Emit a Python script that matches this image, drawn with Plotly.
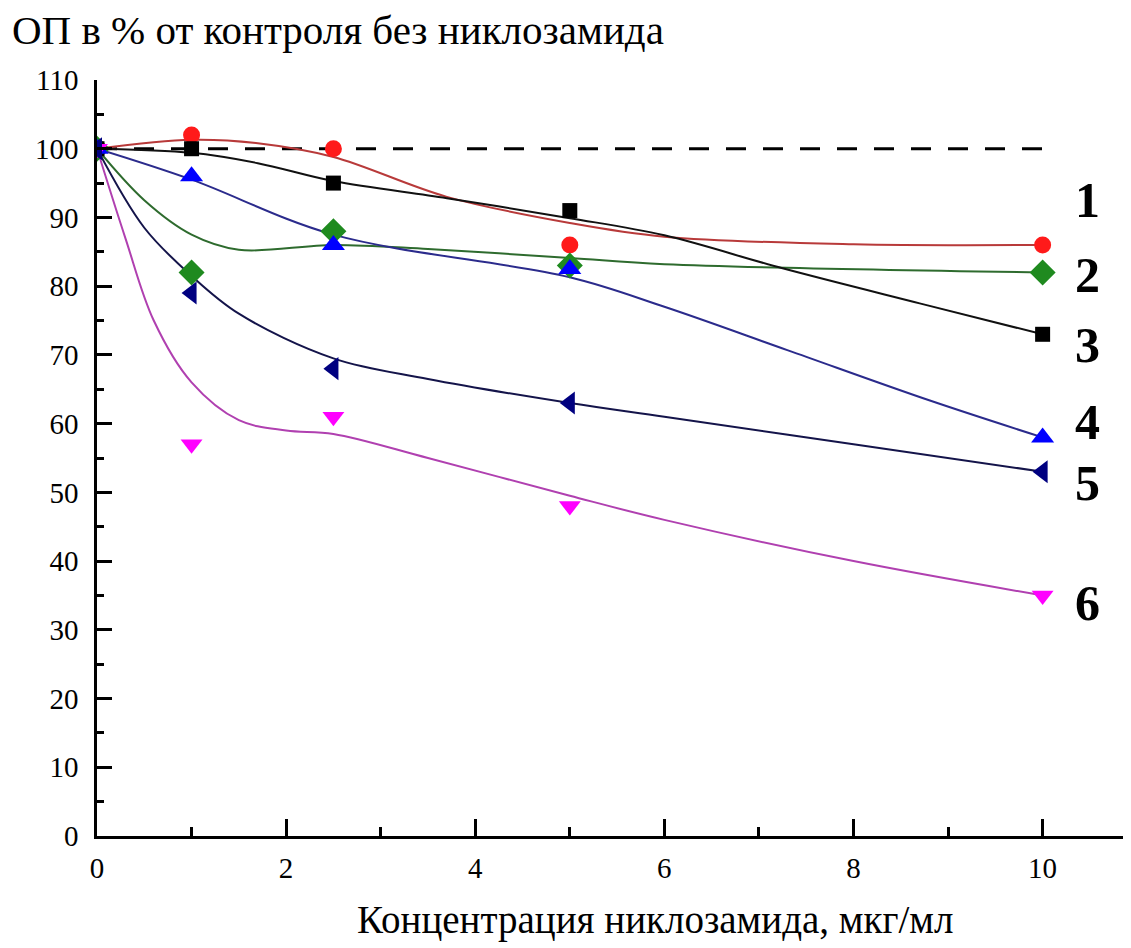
import plotly.graph_objects as go

# ---------------- data ----------------
conc = [0, 1, 2.5, 5, 10]  # мкг/мл

s1_vals = [100, 102, 100, 86, 86]   # red circles
s2_vals = [100, 82, 88, 83, 82]     # green diamonds
s3_vals = [100, 100, 95, 91, 73]    # black squares
s4_vals = [100, 96, 86, 82.5, 58]   # blue up-triangles
s5_vals = [100, 79, 68, 63, 53]     # navy left-triangles
s6_vals = [100, 57, 61, 48, 35]     # magenta down-triangles

# fitted curves
s1_fit_x = [0, 1, 1.7, 2.5, 3.7, 5, 6, 8, 10]
s1_fit_y = [100, 101.3, 100.8, 98.8, 93, 89.2, 87.2, 86.1, 86]
s2_fit_x = [0, 0.5, 1, 1.5, 2.5, 3.5, 5, 6, 10]
s2_fit_y = [100, 92.5, 87.5, 85.3, 86, 85.4, 84.1, 83.2, 82]
s3_fit_x = [0, 1, 1.7, 2.5, 3.7, 5, 6, 7.25, 8.7, 10]
s3_fit_y = [100, 99.4, 97.9, 95.3, 92.8, 89.9, 87.4, 82.6, 77.5, 73]
s4_fit_x = [0, 1, 2.5, 5, 6, 7.3, 8.8, 10]
s4_fit_y = [100, 95.5, 87.5, 81.3, 77, 70.7, 63.4, 58]
s5_fit_x = [0, 0.5, 1, 1.5, 2.5, 3.5, 5, 6, 8, 10]
s5_fit_y = [100, 88.5, 81.5, 76, 69.5, 66.5, 63, 61, 57, 53]
s6_fit_x = [0, 0.3, 0.6, 1, 1.5, 2, 2.5, 3.5, 5, 6, 8, 10]
s6_fit_y = [100, 87, 75, 66, 60.5, 59, 58.5, 55, 49.5, 46, 40, 35]

control_level = 100
control_x = [0, 10.15]

curve_labels = ["1", "2", "3", "4", "5", "6"]
y_ticks = list(range(0, 111, 10))
x_ticks = [0, 2, 4, 6, 8, 10]

y_title = "ОП в % от контроля без никлозамида"
x_title = "Концентрация никлозамида, мкг/мл"

# ---------------- styles ----------------
FONT = "Liberation Serif"
series = [
    (s1_vals, s1_fit_x, s1_fit_y, "#ff1a1a", "#b83a3a", "circle", 17),
    (s2_vals, s2_fit_x, s2_fit_y, "#1f8a1f", "#2e6b2e", "diamond", 20),
    (s3_vals, s3_fit_x, s3_fit_y, "#000000", "#111111", "square", 15),
    (s4_vals, s4_fit_x, s4_fit_y, "#0000ff", "#2b2b8c", "triangle-up", 20),
    (s6_vals, s6_fit_x, s6_fit_y, "#ff00ff", "#b040b0", "triangle-down", 19),
    (s5_vals, s5_fit_x, s5_fit_y, "#000080", "#14144a", "triangle-left", 20),
]

fig = go.Figure()

fig.add_trace(go.Scatter(
    x=control_x, y=[control_level] * len(control_x), mode="lines",
    line=dict(color="black", width=3, dash="20px,17px"),
    showlegend=False, hoverinfo="skip"))

for vals, fx, fy, mcol, lcol, sym, size in series:
    fig.add_trace(go.Scatter(
        x=fx, y=fy, mode="lines",
        line=dict(color=lcol, width=2, shape="spline", smoothing=1.0),
        showlegend=False, hoverinfo="skip"))
for vals, fx, fy, mcol, lcol, sym, size in series:
    fig.add_trace(go.Scatter(
        x=conc, y=vals, mode="markers",
        marker=dict(color=mcol, symbol=sym, size=size, line=dict(width=0)),
        showlegend=False))

W, H = 1131, 948
ML, MR, MT, MB = 89, 16, 72, 120

def px_to_paper(px, py):
    return (px - ML) / (W - ML - MR), (H - MB - py) / (H - MT - MB)

# curve number labels
label_y = [92.5, 81.6, 71.4, 60.2, 51.4, 33.9]
for lab, ly in zip(curve_labels, label_y):
    fig.add_annotation(x=10.47, y=ly, xref="x", yref="y", text="<b>" + lab + "</b>",
                       showarrow=False, xanchor="center", yanchor="middle",
                       font=dict(family=FONT, size=50, color="black"))

tx, ty = px_to_paper(2, 22)
fig.add_annotation(x=tx, y=ty, xref="paper", yref="paper", xanchor="left",
                   yanchor="middle", text=y_title, showarrow=False,
                   font=dict(family=FONT, size=41, color="black"))
tx, ty = px_to_paper(647, 912)
fig.add_annotation(x=tx, y=ty, xref="paper", yref="paper", text=x_title,
                   showarrow=False, xanchor="center", yanchor="middle",
                   font=dict(family=FONT, size=39, color="black"))

fig.update_layout(
    width=W, height=H,
    margin=dict(l=ML, r=MR, t=MT, b=MB),
    plot_bgcolor="white", paper_bgcolor="white",
    font=dict(family=FONT, size=29, color="black"),
)
fig.update_xaxes(
    range=[0, 10.85], tickvals=x_ticks, ticks="inside", ticklen=17, tickwidth=2.5,
    tickcolor="black", showline=True, linecolor="black", linewidth=2.5,
    showgrid=False, zeroline=False, tickfont=dict(family=FONT, size=29),
    ticklabelstandoff=4,
    minor=dict(ticks="inside", ticklen=9, tickwidth=2.5, dtick=1, tick0=0,
               tickcolor="black", showgrid=False),
)
fig.update_yaxes(
    range=[0, 110], tickvals=y_ticks, ticks="inside", ticklen=15, tickwidth=2.5,
    tickcolor="black", showline=True, linecolor="black", linewidth=2.5,
    showgrid=False, zeroline=False, tickfont=dict(family=FONT, size=29),
    ticklabelstandoff=10,
    minor=dict(ticks="inside", ticklen=7, tickwidth=2.5, dtick=5, tick0=0,
               tickcolor="black", showgrid=False),
)

fig.write_html("out.html")
